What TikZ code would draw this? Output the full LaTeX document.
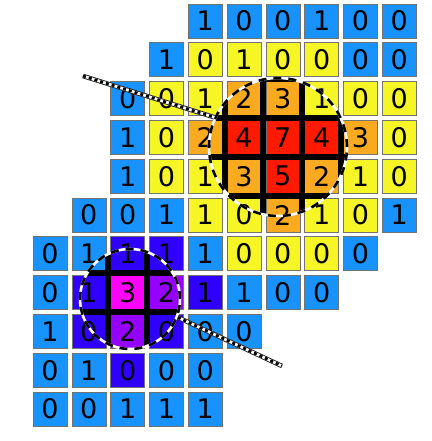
\documentclass[tikz,border=0pt]{standalone}
\usepackage{fontspec}
\setmainfont{DejaVu Sans}
\definecolor{cblue}{RGB}{24,146,252}
\definecolor{cyellow}{RGB}{246,246,38}
\definecolor{corange}{RGB}{250,170,30}
\definecolor{cred}{RGB}{255,26,0}
\definecolor{cindigo}{RGB}{48,0,255}
\definecolor{cmagenta}{RGB}{255,0,255}
\definecolor{cviolet}{RGB}{150,0,255}
\tikzset{
  cell/.style={rectangle,draw=black!55,line width=0.6pt,minimum size=34pt,inner sep=0pt,
    font=\fontsize{27}{27}\selectfont},
  lens/.style={circle,inner sep=0pt,draw=white,line width=2.6pt,
    postaction={draw=black,line width=2.6pt,dash pattern=on 8pt off 7pt}},
  rope/.style={draw=black!85,line width=4.6pt,
    postaction={draw=white,line width=2.8pt},
    postaction={draw=black,line width=2.8pt,dash pattern=on 3pt off 3pt}}
}
\begin{document}
\begin{tikzpicture}[x=38.8pt,y=-38.8pt]
\useasboundingbox (-1.289,-0.541) rectangle (9.820,10.825);
\foreach \r/\row in {
  0/{4/1/cblue,5/0/cblue,6/0/cblue,7/1/cblue,8/0/cblue,9/0/cblue},
  1/{3/1/cblue,4/0/cyellow,5/1/cyellow,6/0/cyellow,7/0/cyellow,8/0/cblue,9/0/cblue},
  2/{2/0/cblue,3/0/cyellow,4/1/cyellow,5/2/corange,6/3/corange,7/1/cyellow,8/0/cyellow,9/0/cyellow},
  3/{2/1/cblue,3/0/cyellow,4/2/corange,5/4/cred,6/7/cred,7/4/cred,8/3/corange,9/0/cyellow},
  4/{2/1/cblue,3/0/cyellow,4/1/cyellow,5/3/corange,6/5/cred,7/2/corange,8/1/cyellow,9/0/cyellow},
  5/{1/0/cblue,2/0/cblue,3/1/cblue,4/1/cyellow,5/0/cyellow,6/2/corange,7/1/cyellow,8/0/cyellow,9/1/cblue},
  6/{0/0/cblue,1/1/cblue,2/1/cindigo,3/1/cindigo,4/1/cblue,5/0/cyellow,6/0/cyellow,7/0/cyellow,8/0/cblue},
  7/{0/0/cblue,1/1/cindigo,2/3/cmagenta,3/2/cviolet,4/1/cindigo,5/1/cblue,6/0/cblue,7/0/cblue},
  8/{0/1/cblue,1/0/cindigo,2/2/cviolet,3/0/cindigo,4/0/cblue,5/0/cblue},
  9/{0/0/cblue,1/1/cblue,2/0/cindigo,3/0/cblue,4/0/cblue},
  10/{0/0/cblue,1/0/cblue,2/1/cblue,3/1/cblue,4/1/cblue}}
  \foreach \c/\v/\k in \row
    \node[cell,fill=\k] (n\r-\c) at (\c,\r) {\v};
% black grid inside both lenses
\begin{scope}
\clip (5.876,3.247) circle (69pt) (2.062,7.165) circle (50pt);
\foreach \g in {-0.5,0.5,...,9.5} {
  \draw[line width=6pt] (\g,-1) -- (\g,11);
  \draw[line width=6pt] (-1,\g) -- (10,\g);
}
\end{scope}
\node[lens,minimum size=138pt] (lensA) at (5.876,3.247) {};
\node[lens,minimum size=100pt] (lensB) at (2.062,7.165) {};
\coordinate (tailA) at (0.851,1.418);
\coordinate (tailB) at (5.979,8.892);
\draw[rope] (tailA) -- (lensA.155);
\draw[rope] (lensB.-21) -- (tailB);
\end{tikzpicture}
\end{document}
